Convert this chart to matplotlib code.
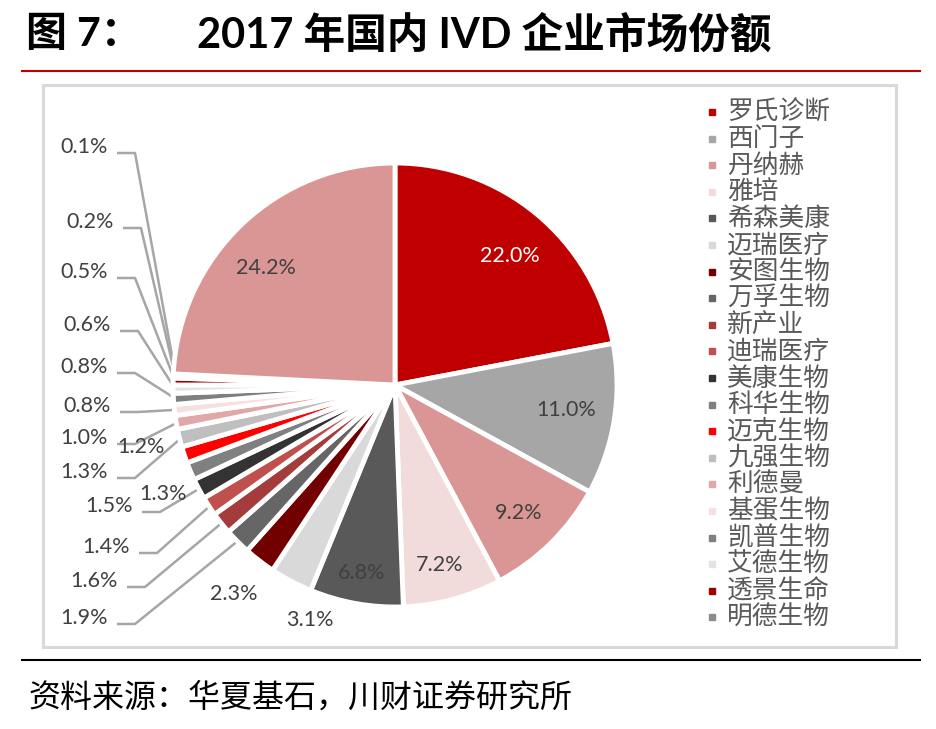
import matplotlib.pyplot as plt
from matplotlib.patches import Rectangle
import numpy as np

# 字体: 数字用 Lato, 中文退回 Noto Sans CJK
plt.rcParams['font.family'] = ['Lato', 'Noto Sans CJK SC', 'DejaVu Sans']

# 图例里的企业 (图例只列出前 20 家)
companies = ['罗氏诊断', '西门子', '丹纳赫', '雅培', '希森美康', '迈瑞医疗', '安图生物', '万孚生物',
             '新产业', '迪瑞医疗', '美康生物', '科华生物', '迈克生物', '九强生物', '利德曼', '基蛋生物',
             '凯普生物', '艾德生物', '透景生命', '明德生物']
# 市场份额 (%), 饼图共 22 块
shares = [22.0, 11.0, 9.2, 7.2, 6.8, 3.1, 2.3, 1.9, 1.6, 1.4, 1.5, 1.3, 1.2, 1.3, 1.0, 0.8, 0.8,
          0.6, 0.5, 0.2, 0.1, 24.2]
colors = ['#C00000', '#A6A6A6', '#D99694', '#F2DCDB', '#595959', '#D9D9D9', '#720000', '#666666',
          '#A33C3A', '#C0504D', '#333333', '#808080', '#FF0000', '#BFBFBF', '#E0A9A8', '#F5E1E0',
          '#7F7F7F', '#E3E3E3', '#A00000', '#8C8C8C', '#D9D9D9', '#D99694']

W, H = 936, 729
fig = plt.figure(figsize=(W / 100, H / 100), dpi=100)
ax = fig.add_axes([0, 0, 1, 1])


def Y(py):
    # 像素坐标(从上往下) -> 数据坐标
    return H - py


cx, cy, R = 395, Y(385), 222
wedges, _ = ax.pie(shares, colors=colors, startangle=90, counterclock=False,
                   center=(cx, cy), radius=R,
                   wedgeprops=dict(edgecolor='white', linewidth=3.5))

# 数据标签位置 (像素)
inner_pos = {0: (510, 256), 1: (566, 410), 2: (519, 513), 3: (440, 565), 4: (362, 573),
             5: (310, 620), 6: (234, 594), 11: (163, 494), 12: (141, 447), 21: (266, 268)}
# 带引导线的标签: (文字右端 x, y)
outer_pos = {7: (108, 618), 8: (118, 581), 9: (130, 547), 10: (133, 506), 13: (108, 472),
             14: (108, 438), 15: (111, 406), 16: (108, 367), 17: (111, 325), 18: (108, 272),
             19: (114, 222), 20: (108, 147)}

lab_font = dict(fontsize=15.5, color='#404040')
for i, (px, py) in inner_pos.items():
    c = 'white' if i == 0 else '#404040'
    ax.text(px, Y(py), f'{shares[i]:.1f}%', ha='center', va='center',
            fontsize=15.5, color=c)

for i, (rx, py) in outer_pos.items():
    ax.text(rx, Y(py), f'{shares[i]:.1f}%', ha='right', va='center', **lab_font)
    w = wedges[i]
    mid = np.deg2rad((w.theta1 + w.theta2) / 2)
    ex, ey = cx + R * 0.99 * np.cos(mid), cy + R * 0.99 * np.sin(mid)
    ly = Y(py + 6)
    ax.plot([rx + 9, rx + 27, ex], [ly, ly, ey], color='#A6A6A6', lw=1.8,
            solid_capstyle='butt', zorder=0.5)

# 图例 (手动排列)
for i, name in enumerate(companies):
    yy = Y(112 + 26.6 * i)
    ax.plot(711.5, yy, marker='s', ms=5, color=colors[i], ls='')
    ax.text(727, yy, name, fontsize=18.5, color='#595959', va='center')

# 标题, 线框, 来源
ax.text(26, Y(34), '图 7：', fontsize=29.5, fontweight='bold', va='center')
ax.text(197, Y(34), '2017 年国内 IVD 企业市场份额', fontsize=30, fontweight='bold', va='center')
ax.plot([22, 920], [Y(71), Y(71)], color='#C00000', lw=1.5)
ax.add_patch(Rectangle((43, Y(647)), 853, 562, fill=False, ec='#D9D9D9', lw=2.2))
ax.plot([22, 920], [Y(660), Y(660)], color='black', lw=1.5)
ax.text(28, Y(697), '资料来源：华夏基石，川财证券研究所', fontsize=23, va='center')

ax.set_xlim(0, W)
ax.set_ylim(0, H)
ax.set_aspect('equal')
ax.axis('off')

plt.savefig('out.png', dpi=100)
